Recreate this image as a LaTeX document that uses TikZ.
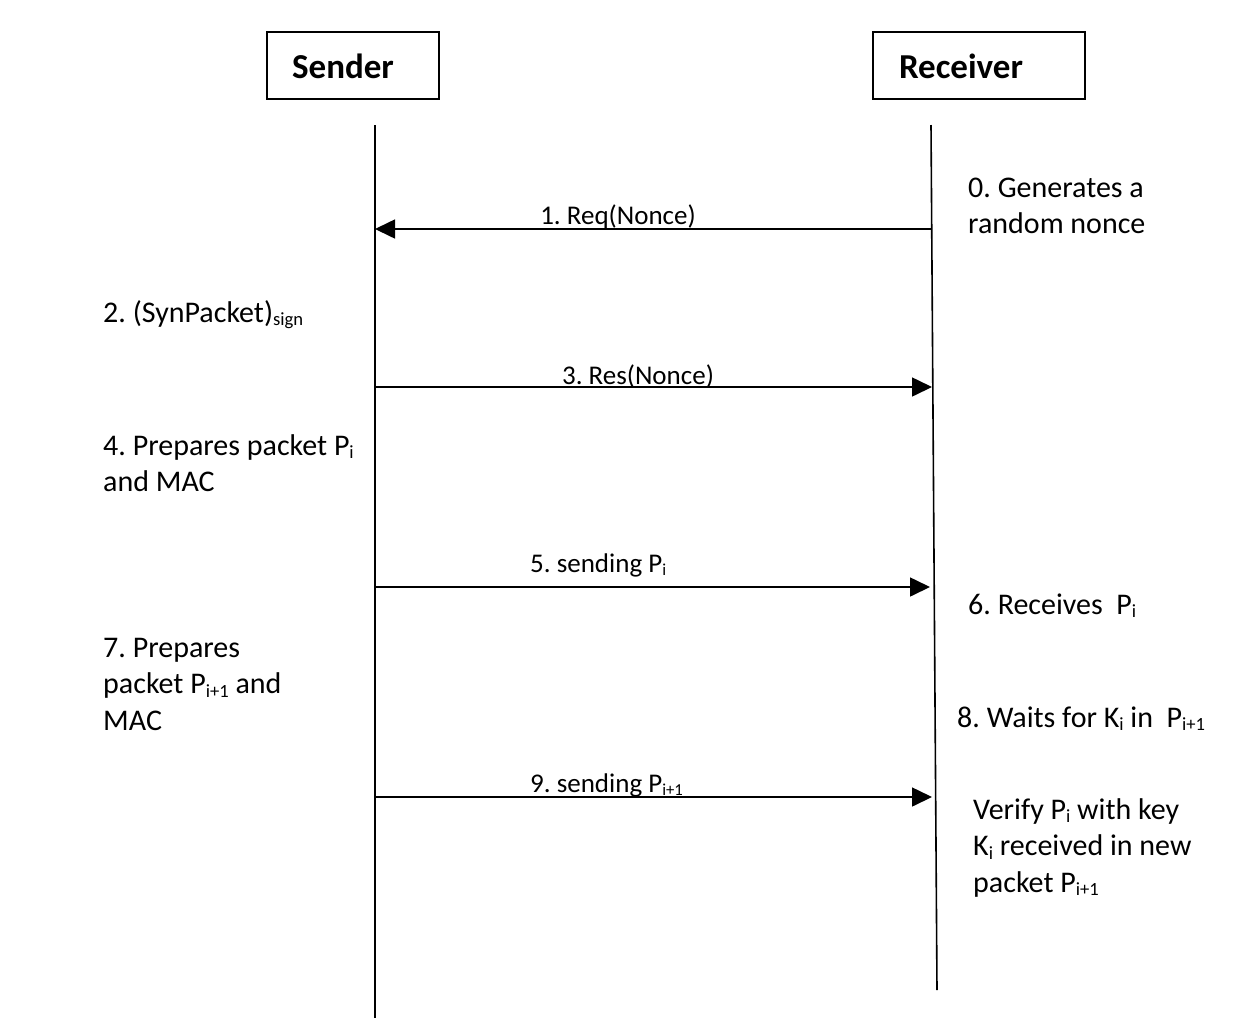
\documentclass[tikz,border=0pt]{standalone}
\usepackage{fontspec}
\setmainfont{Carlito}
\usetikzlibrary{arrows.meta}
\frenchspacing
\newcommand\sbs[1]{\raisebox{-0.12em}{\scalebox{0.62}{#1}}}
\newcommand\stack[1]{\vtop{\baselineskip=36.5pt\halign{##\hfil\cr#1\crcr}}}
\tikzset{
  actor/.style={draw, line width=1.6pt, minimum width=172pt, minimum height=67pt, inner sep=0pt,
     font=\fontsize{35}{42}\selectfont\bfseries},
  life/.style={line width=1.6pt},
  msg/.style={line width=1.6pt, -{Triangle[length=20pt,width=19pt]}},
  lbl/.style={inner sep=0pt, font=\fontsize{27}{33}\selectfont},
  note/.style={inner sep=0pt, anchor=base west, font=\fontsize{30}{36.5}\selectfont}
}
\begin{document}
\begin{tikzpicture}[x=1pt,y=-1pt]
\useasboundingbox (0,0) rectangle (1250,1018);
% actors
\node[actor, minimum width=172pt] (sender) at (353,65.5) {};
\node[font=\fontsize{35}{42}\selectfont\bfseries, anchor=base, inner sep=0pt] (sendert) at (343,78) {Sender};
\node[actor, minimum width=212pt] (receiver) at (979,65.5) {};
\node[font=\fontsize{35}{42}\selectfont\bfseries, anchor=base, inner sep=0pt] (receivert) at (961,78) {Receiver};
% lifelines
\coordinate (st) at (375,125);
\coordinate (sb) at (375,1018);
\coordinate (rt) at (931,125);
\coordinate (rb) at (937,990);
\draw[life] (st) -- (sb);
\draw[life] (rt) -- (rb);
% message endpoints
\coordinate (m1r) at (931.7,229); \coordinate (m1s) at (375,229);
\coordinate (m3s) at (375,387); \coordinate (m3r) at (932,387);
\coordinate (m5s) at (375,587); \coordinate (m5r) at (930,587);
\coordinate (m9s) at (375,797); \coordinate (m9r) at (932,797);
\draw[msg] (m1r) -- (m1s);
\draw[msg] (m3s) -- (m3r);
\draw[msg] (m5s) -- (m5r);
\draw[msg] (m9s) -- (m9r);
% message labels
\node[lbl, anchor=base] (l1) at (618,224) {1. Req(Nonce)};
\node[lbl, anchor=base] (l3) at (638,384) {3. Res(Nonce)};
\node[lbl, anchor=base west] (l5) at (530,572) {5. sending P\sbs{i}};
\node[lbl, anchor=base west] (l9) at (530,792) {9. sending P\sbs{i+1}};
% left notes
\node[note] (n2) at (103,322) {2. (SynPacket)\sbs{sign}};
\node[note] (n4) at (103,455) {\stack{4. Prepares packet P\sbs{i}\cr and MAC}};
\node[note] (n7) at (103,657) {\stack{7. Prepares\cr packet P\sbs{i+1} and\cr MAC}};
% right notes
\node[note] (n0) at (968,197) {\stack{0. Generates a\cr random nonce}};
\node[note] (n6) at (968,614) {6. Receives~ P\sbs{i}};
\node[note] (n8) at (957,727) {8. Waits for K\sbs{i} in~ P\sbs{i+1}};
\node[note] (nv) at (973,819) {\stack{Verify P\sbs{i} with key\cr K\sbs{i} received in new\cr packet P\sbs{i+1}}};
\end{tikzpicture}
\end{document}
